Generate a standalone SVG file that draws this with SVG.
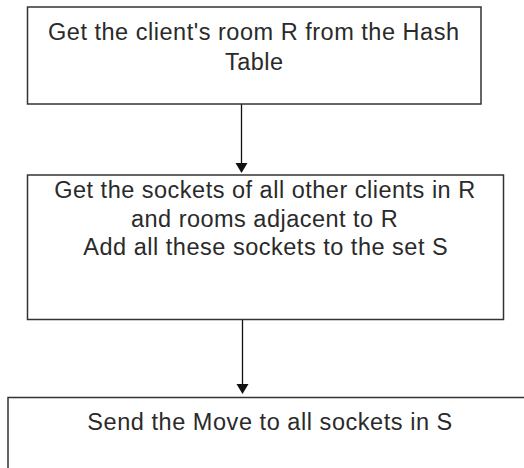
<svg xmlns="http://www.w3.org/2000/svg" width="524" height="468" viewBox="0 0 524 468">
<style>
.box{fill:#fff;stroke:#333;stroke-width:1.5}
.t{font-family:"Liberation Sans",Arial,sans-serif;font-size:23.5px;fill:#2a2a2a;text-anchor:middle}
.c{stroke:#111;stroke-width:1.3;fill:none}
.ah{fill:#111}
</style>
<rect width="524" height="468" fill="#fff"/>
<g id="connectors">
<line class="c" x1="241.5" y1="104" x2="241.5" y2="163"/>
<path class="ah" d="M235.5,163 L247.5,163 L241.5,173 Z"/>
<line class="c" x1="242.5" y1="320" x2="242.5" y2="384"/>
<path class="ah" d="M236.5,384 L248.5,384 L242.5,394 Z"/>
</g>
<g id="node1">
<rect class="box" x="27.5" y="7" width="453.5" height="97"/>
<text class="t" x="253.5" y="40" textLength="411" lengthAdjust="spacing">Get the client's room R from the Hash</text>
<text class="t" x="254" y="70" textLength="58" lengthAdjust="spacing">Table</text>
</g>
<g id="node2">
<rect class="box" x="27.5" y="175" width="476" height="144.5"/>
<text class="t" x="264.7" y="198" textLength="421" lengthAdjust="spacing">Get the sockets of all other clients in R</text>
<text class="t" x="264.3" y="226.5" textLength="266.7" lengthAdjust="spacing">and rooms adjacent to R</text>
<text class="t" x="265.5" y="255" textLength="364.4" lengthAdjust="spacing">Add all these sockets to the set S</text>
</g>
<g id="node3">
<rect class="box" x="8" y="397.5" width="530" height="80"/>
<text class="t" x="269.8" y="430" textLength="365" lengthAdjust="spacing">Send the Move to all sockets in S</text>
</g>
</svg>
